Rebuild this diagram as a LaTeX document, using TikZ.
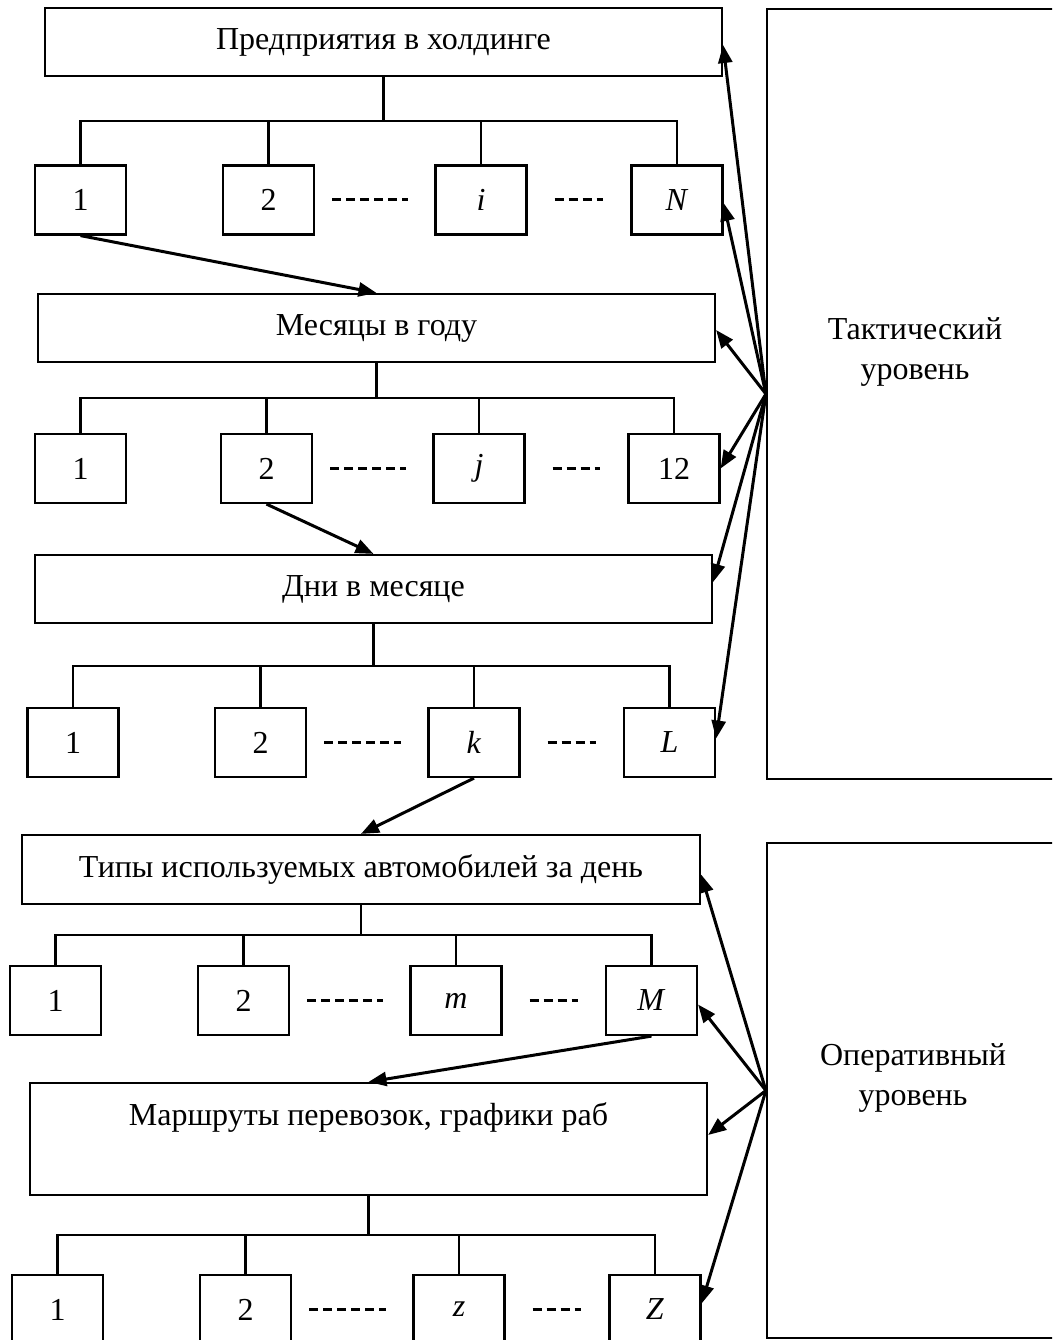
\documentclass[tikz,border=0pt]{standalone}
\usepackage{fontspec}
\setmainfont{Liberation Serif}
\usetikzlibrary{arrows.meta,calc}
\begin{document}
\begin{tikzpicture}[x=1pt,y=-1pt,
 box/.style={draw, line width=2.2pt, inner sep=0pt, font=\fontsize{32}{38}\selectfont, minimum height=68pt},
 wide/.style={box, minimum width=677pt},
 sq/.style={box, minimum width=91pt, minimum height=69pt},
 level/.style={draw, line width=2.2pt, minimum width=296pt, inner sep=0pt},
 link/.style={line width=2.2pt},
 arr/.style={line width=3pt, -{Triangle[length=18pt,width=14pt]}},
 dots/.style={line width=3pt, dash pattern=on 9pt off 5pt},
 lbl/.style={align=center, font=\fontsize{32}{40}\selectfont}
]
\useasboundingbox (0,0) rectangle (1052,1340);
\clip (0,0) rectangle (1052,1340);
\fill[white] (0,0) rectangle (1052,1340);

% ---------- level 1: enterprises
\node[wide] (top) at (383.5,42) {Предприятия в холдинге};
\node[sq] (r1a) at (80.5,200) {1};
\node[sq] (r1b) at (268.5,200) {2};
\node[sq] (r1c) at (481,200) {\textit{i}};
\node[sq] (r1d) at (677,200) {\textit{N}};
\coordinate (b1) at (0,121);

% ---------- level 2: months
\node[wide] (mes) at (376.5,328) {Месяцы в году};
\node[sq] (r2a) at (80.5,468.5) {1};
\node[sq] (r2b) at (266.5,468.5) {2};
\node[sq] (r2c) at (479,468.5) {\textit{j}};
\node[sq] (r2d) at (674,468.5) {12};
\coordinate (b2) at (0,398);

% ---------- level 3: days
\node[wide] (dni) at (373.5,589) {Дни в месяце};
\node[sq] (r3a) at (73,742.5) {1};
\node[sq] (r3b) at (260.5,742.5) {2};
\node[sq] (r3c) at (474,742.5) {\textit{k}};
\node[sq] (r3d) at (669.5,742.5) {\textit{L}};
\coordinate (b3) at (0,666);

% ---------- level 4: vehicle types
\node[wide, minimum width=678pt, minimum height=69pt] (tip) at (361,869.5) {Типы используемых автомобилей за день};
\node[sq] (r4a) at (55.5,1000.5) {1};
\node[sq] (r4b) at (243.5,1000.5) {2};
\node[sq] (r4c) at (456,1000.5) {\textit{m}};
\node[sq] (r4d) at (651.5,1000.5) {\textit{M}};
\coordinate (b4) at (0,935);

% ---------- level 5: routes
\node[wide, minimum height=112pt, align=center] (mar) at (368.5,1139) {Маршруты перевозок, графики раб\\[12pt]\mbox{}};
\node[sq] (r5a) at (57.5,1309.5) {1};
\node[sq] (r5b) at (245.5,1309.5) {2};
\node[sq] (r5c) at (459,1309.5) {\textit{z}};
\node[sq] (r5d) at (655,1309.5) {\textit{Z}};
\coordinate (b5) at (0,1235);

% ---------- tree connectors
\foreach \p/\r/\b in {top/r1/b1, mes/r2/b2, dni/r3/b3, tip/r4/b4, mar/r5/b5}{
  \draw[link] (\p.south) -- (\p.south |- \b);
  \draw[link] (\r a.north) -- (\r a.north |- \b) -- (\r d.north |- \b) -- (\r d.north);
  \draw[link] (\r b.north) -- (\r b.north |- \b);
  \draw[link] (\r c.north) -- (\r c.north |- \b);
  \draw[dots] ($(\r b.east)+(17,0)$) -- ($(\r c.west)+(-26,0)$);
  \draw[dots] ($(\r c.east)+(27,0)$) -- ($(\r d.west)+(-27,0)$);
}

% ---------- level-to-level arrows
\draw[arr] (r1a.south) -- (mes.north);
\draw[arr] (r2b.south) -- (dni.north);
\draw[arr] (r3c.south) -- (tip.north);
\draw[arr] (r4d.south) -- (mar.north);

% ---------- level boxes
\node[level, minimum height=770pt] (tak) at (915,394) {};
\node[lbl] (taktext) at (915,352) {Тактический\\уровень};
\node[level, minimum height=495pt] (op) at (915,1090.5) {};
\node[lbl] (optext) at (913,1077.5) {Оперативный\\уровень};

% ---------- fan arrows, tactical
\draw[arr] (tak.west) -- ([yshift=-3pt]top.east);
\draw[arr] (tak.west) -- ([yshift=-3pt]r1d.east);
\draw[arr] (tak.west) -- ([yshift=-2pt]mes.east);
\draw[arr] (tak.west) -- (r2d.east);
\draw[arr] (tak.west) -- ([yshift=7pt]dni.east);
\draw[arr] (tak.west) -- ([yshift=4pt]r3d.east);

% ---------- fan arrows, operative
\draw[arr] (op.west) -- ([yshift=-5pt]tip.east);
\draw[arr] (op.west) -- ([yshift=-4pt]r4d.east);
\draw[arr] (op.west) -- ([yshift=4pt]mar.east);
\draw[arr] (op.west) -- ([yshift=6pt]r5d.east);
\end{tikzpicture}
\end{document}
